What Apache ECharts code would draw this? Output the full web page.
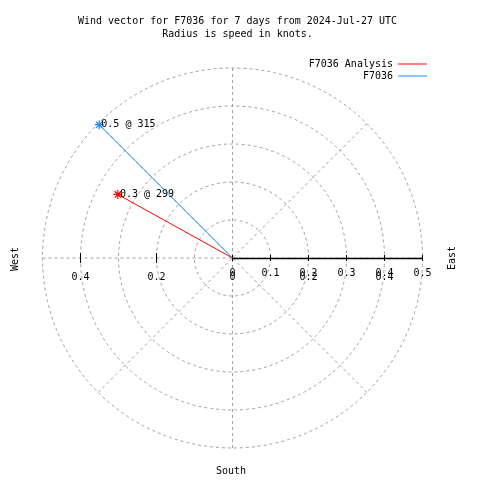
<!DOCTYPE html>
<html><head><meta charset="utf-8">
<script src="https://cdn.jsdelivr.net/npm/echarts@6/dist/echarts.min.js"></script>
<style>html,body{margin:0;padding:0;background:#fff}#c{width:480px;height:480px}</style>
</head><body><div id="c"></div>
<script>
// Data
var seriesNames = ['F7036 Analysis', 'F7036'];
var speeds = [0.345, 0.496];      // knots (radius)
var directions = [299, 315];      // degrees, compass
var seriesColors = ['#ff0000', '#1e8cff'];
var eastTicks = [0, 0.1, 0.2, 0.3, 0.4, 0.5];
var westLabels = [-0.4, -0.2, 0, 0.2, 0.4];
var westTicks = [-0.4, -0.2];
var titleText = 'Wind vector for F7036 for 7 days from 2024-Jul-27 UTC\nRadius is speed in knots.';

var FONT = '"DejaVu Sans Mono", monospace';
var CX = 232.5, CY = 258, R = 190;
var starPath = 'path://M0,-5L0,5M-5,0L5,0M-3.5,-3.5L3.5,3.5M-3.5,3.5L3.5,-3.5';
var dashed = {color: '#a0a0a0', width: 1, type: [3, 3]};

var chart = echarts.init(document.getElementById('c'));
var series = seriesNames.map(function (n, i) {
  return {
    name: n, type: 'line', coordinateSystem: 'polar', polarIndex: 0,
    showAllSymbol: true, animation: false, z: 5 + i,
    lineStyle: {color: seriesColors[i], width: 1},
    itemStyle: {color: seriesColors[i], borderColor: seriesColors[i], borderWidth: 1.2},
    data: [
      {value: [0, directions[i]], symbol: 'none'},
      {value: [speeds[i], directions[i]], symbol: starPath, symbolSize: 9,
        label: {show: true, position: 'right', distance: 0, offset: [-3, 0],
          color: '#000', fontFamily: FONT, fontSize: 10,
          formatter: speeds[i].toFixed(1) + ' @ ' + directions[i]}}
    ]
  };
});

var legendCommon = {right: 53, padding: 0, align: 'right', icon: 'rect', itemWidth: 29, itemHeight: 1,
  itemStyle: {borderWidth: 0},
  textStyle: {fontFamily: FONT, fontSize: 10, color: '#000'}, selectedMode: false};

chart.setOption({
  animation: false,
  backgroundColor: '#fff',
  title: {text: titleText, left: CX, textAlign: 'center', top: 10,
    textStyle: {fontFamily: FONT, fontSize: 10, fontWeight: 'normal', color: '#000', lineHeight: 13}},
  legend: [
    Object.assign({data: [seriesNames[0]], top: 59}, legendCommon),
    Object.assign({data: [seriesNames[1]], top: 71}, legendCommon)
  ],
  polar: {center: [CX, CY], radius: R},
  angleAxis: {polarIndex: 0, type: 'value', min: 0, max: 360, interval: 45, startAngle: 90, clockwise: true,
    axisLine: {show: false}, axisTick: {show: false}, axisLabel: {show: false},
    splitLine: {show: true, lineStyle: dashed}},
  radiusAxis: {polarIndex: 0, type: 'value', min: 0, max: 0.5, interval: 0.1,
    axisLine: {show: false}, axisTick: {show: false}, axisLabel: {show: false},
    splitLine: {show: true, lineStyle: dashed}},
  grid: [
    {left: CX, width: R, top: CY, height: 0, containLabel: false},
    {left: CX - R, width: 2 * R, top: CY, height: 0, containLabel: false}
  ],
  xAxis: [
    {gridIndex: 0, type: 'value', position: 'bottom', min: 0, max: 0.5, interval: 0.1, z: 10,
      axisLine: {show: true, lineStyle: {color: '#000', width: 1.3}},
      axisTick: {show: true, length: 3, lineStyle: {color: '#000'}},
      axisLabel: {show: true, margin: 10, color: '#000', fontFamily: FONT, fontSize: 10,
        customValues: eastTicks, showMinLabel: true, showMaxLabel: true},
      splitLine: {show: false}},
    {gridIndex: 0, type: 'value', position: 'top', min: 0, max: 0.5, interval: 0.1, z: 10,
      axisLine: {show: false}, axisTick: {show: true, length: 3, lineStyle: {color: '#000'}},
      axisLabel: {show: false}, splitLine: {show: false}},
    {gridIndex: 1, type: 'value', position: 'bottom', min: -0.5, max: 0.5, z: 10,
      axisLine: {show: false},
      axisTick: {show: true, length: 5, customValues: westTicks, lineStyle: {color: '#000'}},
      axisLabel: {show: true, margin: 14, color: '#000', fontFamily: FONT, fontSize: 10,
        customValues: westLabels, formatter: function (v) { return String(Math.abs(v)); }},
      splitLine: {show: false}},
    {gridIndex: 1, type: 'value', position: 'top', min: -0.5, max: 0.5, z: 10,
      axisLine: {show: false},
      axisTick: {show: true, length: 5, customValues: westTicks, lineStyle: {color: '#000'}},
      axisLabel: {show: false}, splitLine: {show: false}}
  ],
  yAxis: [
    {gridIndex: 0, show: false, type: 'value'},
    {gridIndex: 1, show: false, type: 'value'}
  ],
  graphic: [
    {type: 'text', x: 15, y: 259, rotation: Math.PI / 2,
      style: {text: 'West', font: '10px ' + FONT, fill: '#000', align: 'center', verticalAlign: 'middle'}},
    {type: 'text', x: 452, y: 258, rotation: Math.PI / 2,
      style: {text: 'East', font: '10px ' + FONT, fill: '#000', align: 'center', verticalAlign: 'middle'}},
    {type: 'text', x: 231, y: 471,
      style: {text: 'South', font: '10px ' + FONT, fill: '#000', align: 'center', verticalAlign: 'middle'}}
  ],
  series: series
});
</script></body></html>
